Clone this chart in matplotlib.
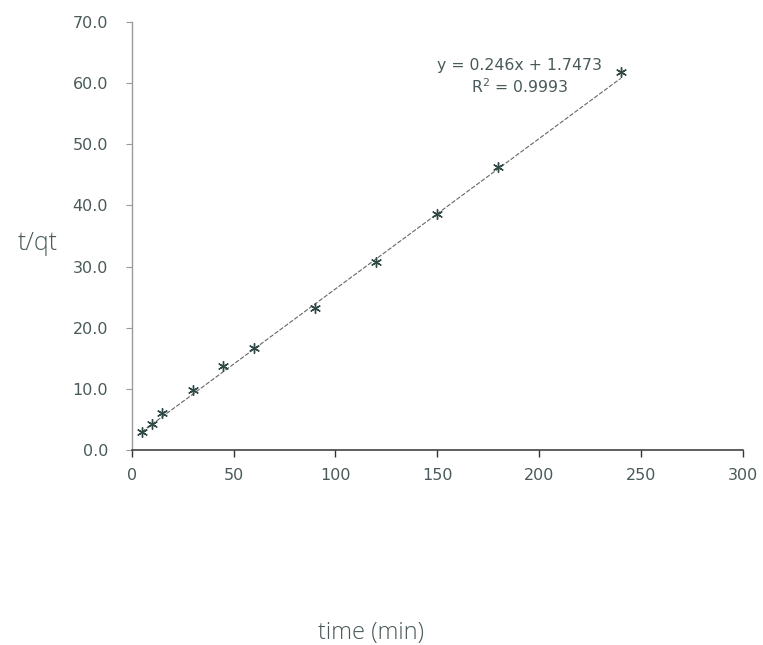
import matplotlib
matplotlib.use("Agg")
import matplotlib.pyplot as plt

# pseudo-second-order plot: t/qt against time
time_min = [5, 10, 15, 30, 45, 60, 90, 120, 150, 180, 240]
t_over_qt = [2.9, 4.3, 6.1, 9.8, 13.7, 16.7, 23.2, 30.8, 38.6, 46.3, 61.9]

# trendline from the chart's equation
slope = 0.246
intercept = 1.7473
r2 = 0.9993

x_ticks = [0, 50, 100, 150, 200, 250, 300]
y_ticks = [0, 10, 20, 30, 40, 50, 60, 70]

text_col = '#4a5a5a'
mark_col = '#2f4a46'

fig = plt.figure(figsize=(7.63, 6.45), dpi=100)
ax = fig.add_axes([0.1726, 0.3023, 0.8012, 0.6636])

line_x = [time_min[0], time_min[-1]]
line_y = [slope * v + intercept for v in line_x]
ax.plot(line_x, line_y, linestyle=(0, (4, 1.5)), color='#666666', linewidth=0.8, zorder=2)
ax.scatter(time_min, t_over_qt, marker=(6, 2, 0), s=50, color=mark_col,
           edgecolors=mark_col, linewidths=1.0, zorder=3)

ax.set_xlim(0, 300)
ax.set_ylim(0, 70)
ax.set_xticks(x_ticks)
ax.set_yticks(y_ticks)
ax.set_yticklabels(['%.1f' % v for v in y_ticks])

for side in ['top', 'right']:
    ax.spines[side].set_visible(False)
ax.spines['left'].set_color('#9a9a9a')
ax.spines['left'].set_linewidth(1.0)
ax.spines['bottom'].set_color('#333333')
ax.spines['bottom'].set_linewidth(1.1)

ax.tick_params(axis='x', direction='out', length=5, width=1, color='#333333',
               labelsize=11.5, labelcolor=text_col, pad=8)
ax.tick_params(axis='y', direction='out', length=4, width=0.8, color='#9a9a9a',
               labelsize=11.5, labelcolor=text_col, pad=13)

ax.text(190.5, 61.0, 'y = 0.246x + 1.7473\nR$^2$ = 0.9993', ha='center', va='center',
        fontsize=11.3, color=text_col, linespacing=1.25)

fig.text(0.049, 0.623, 't/qt', fontsize=18, color=text_col, family='Open Sans',
         weight='light', ha='center', va='center')
fig.text(0.486, 0.018, 'time (min)', fontsize=17, color=text_col, family='Open Sans',
         weight='light', ha='center', va='center')

plt.savefig('out.png', dpi=100)
